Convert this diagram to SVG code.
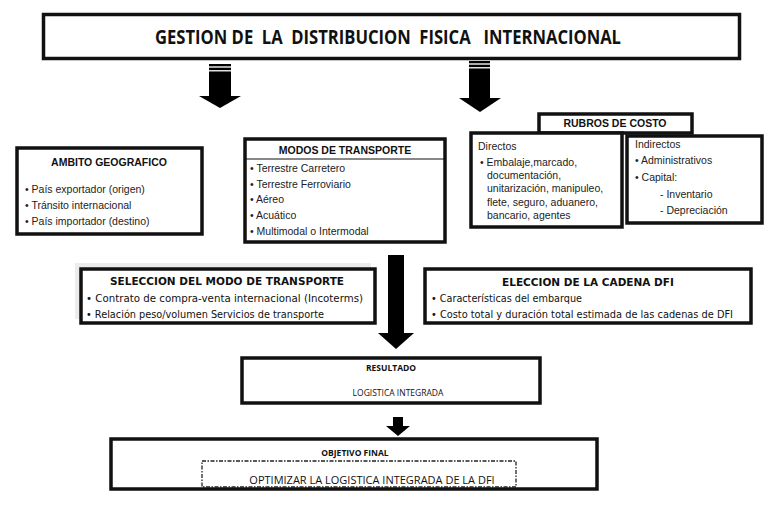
<svg xmlns="http://www.w3.org/2000/svg" width="775" height="511" viewBox="0 0 775 511">
<style>
.box{fill:#fff;stroke:#111;stroke-width:3.5}
.arr{fill:#000}
.a{font-family:"Liberation Sans",Arial,sans-serif;font-size:10.5px;fill:#222}
.ab{font-family:"Liberation Sans",Arial,sans-serif;font-size:10.5px;font-weight:bold;fill:#111}
.t{font-family:"DejaVu Sans",Verdana,sans-serif;font-size:10px;fill:#111}
.tb{font-family:"DejaVu Sans",Verdana,sans-serif;font-size:10.5px;font-weight:bold;fill:#111}
.c{font-family:"Open Sans","Liberation Sans",sans-serif;font-size:8.5px;fill:#111}
.cb{font-family:"Open Sans","Liberation Sans",sans-serif;font-size:8.5px;font-weight:bold;fill:#111}
.title{font-family:"Open Sans","Liberation Sans",sans-serif;font-size:19px;font-weight:bold;fill:#111}
</style>
<rect width="775" height="511" fill="#fff"/>
<g id="connectors">
<path class="arr" d="M209,64 h22 v32 h10 l-21,12 l-21,-12 h10 z"/>
<rect x="209" y="66" width="22" height="2" fill="#aaa"/>
<rect x="209" y="70" width="22" height="1.5" fill="#ddd"/>
<path class="arr" d="M469,61 h21 v37 h11 l-21,14 l-21,-14 h10 z"/>
<rect x="469" y="63" width="21" height="2" fill="#aaa"/>
<rect x="469" y="67" width="21" height="1.5" fill="#ddd"/>
<path class="arr" d="M388,255 h16 v78 h10 l-18,16 l-18,-16 h10 z"/>
<path class="arr" d="M393,417 h10 v9 h7 l-12,10 l-12,-10 h7 z"/>
</g>
<g id="title">
<rect class="box" x="43.5" y="14.5" width="696" height="44"/>
<text class="title" x="388" y="44" text-anchor="middle" textLength="466" lengthAdjust="spacingAndGlyphs" xml:space="preserve">GESTION DE  LA  DISTRIBUCION  FISICA   INTERNACIONAL</text>
</g>
<g id="ambito">
<rect class="box" x="17" y="148" width="185" height="86"/>
<text class="ab" x="109" y="166" text-anchor="middle">AMBITO GEOGRAFICO</text>
<text class="a" x="25" y="193">• País exportador (origen)</text>
<text class="a" x="25" y="209">• Tránsito internacional</text>
<text class="a" x="25" y="225">• País importador (destino)</text>
</g>
<g id="modos">
<rect class="box" x="245" y="139" width="200" height="103"/>
<line x1="245" y1="159" x2="445" y2="159" stroke="#111" stroke-width="1"/>
<text class="ab" x="345" y="154" text-anchor="middle">MODOS DE TRANSPORTE</text>
<text class="a" x="250" y="172">• Terrestre Carretero</text>
<text class="a" x="250" y="188">• Terrestre Ferroviario</text>
<text class="a" x="250" y="203">• Aéreo</text>
<text class="a" x="250" y="219">• Acuático</text>
<text class="a" x="250" y="235">• Multimodal o Intermodal</text>
</g>
<g id="rubros">
<rect class="box" x="539" y="114" width="153" height="19"/>
<text class="ab" x="615" y="127" text-anchor="middle" font-size="9.5">RUBROS DE COSTO</text>
</g>
<g id="directos">
<rect class="box" x="471" y="133" width="151" height="94"/>
<text class="a" x="478" y="150" font-size="11px">Directos</text>
<text class="a" x="480" y="166">• Embalaje,marcado,</text>
<text class="a" x="487" y="179">documentación,</text>
<text class="a" x="487" y="192">unitarización, manipuleo,</text>
<text class="a" x="487" y="206">flete, seguro, aduanero,</text>
<text class="a" x="487" y="219">bancario, agentes</text>
</g>
<g id="indirectos">
<rect class="box" x="627" y="136" width="135" height="87"/>
<text class="a" x="635" y="148" font-size="11px">Indirectos</text>
<text class="a" x="635" y="164">• Administrativos</text>
<text class="a" x="635" y="181">• Capital:</text>
<text class="a" x="660" y="198">- Inventario</text>
<text class="a" x="660" y="214">- Depreciación</text>
</g>
<g id="seleccion">
<rect x="75" y="263" width="296" height="56" fill="#ececec"/>
<rect class="box" x="81" y="269" width="294" height="54" stroke-width="4"/>
<text class="tb" x="227" y="285" text-anchor="middle">SELECCION DEL MODO DE TRANSPORTE</text>
<text class="t" x="86" y="302" textLength="277" lengthAdjust="spacingAndGlyphs">• Contrato de compra-venta internacional (Incoterms)</text>
<text class="t" x="86" y="318" textLength="238" lengthAdjust="spacingAndGlyphs">• Relación peso/volumen Servicios de transporte</text>
</g>
<g id="eleccion">
<rect class="box" x="425" y="269" width="326" height="54" stroke-width="4"/>
<text class="tb" x="588" y="286" text-anchor="middle">ELECCION DE LA CADENA DFI</text>
<text class="t" x="431" y="302" textLength="151" lengthAdjust="spacingAndGlyphs">• Características del embarque</text>
<text class="t" x="431" y="318" textLength="302" lengthAdjust="spacingAndGlyphs">• Costo total y duración total estimada de las cadenas de DFI</text>
</g>
<g id="resultado">
<rect class="box" x="242" y="358" width="298" height="45"/>
<text class="cb" x="391" y="371" text-anchor="middle">RESULTADO</text>
<text class="c" x="398" y="396" text-anchor="middle">LOGISTICA INTEGRADA</text>
</g>
<g id="objetivo">
<rect class="box" x="111" y="439" width="486" height="50"/>
<text class="cb" x="355" y="456" text-anchor="middle">OBJETIVO FINAL</text>
<rect x="202" y="461" width="314" height="26" fill="none" stroke="#222" stroke-width="1.3" stroke-dasharray="4,1.5,1.5,1.5"/>
<text x="372" y="484" text-anchor="middle" font-family="Open Sans, Liberation Sans, sans-serif" font-size="11px" fill="#111">OPTIMIZAR LA LOGISTICA INTEGRADA DE LA DFI</text>
</g>
</svg>
